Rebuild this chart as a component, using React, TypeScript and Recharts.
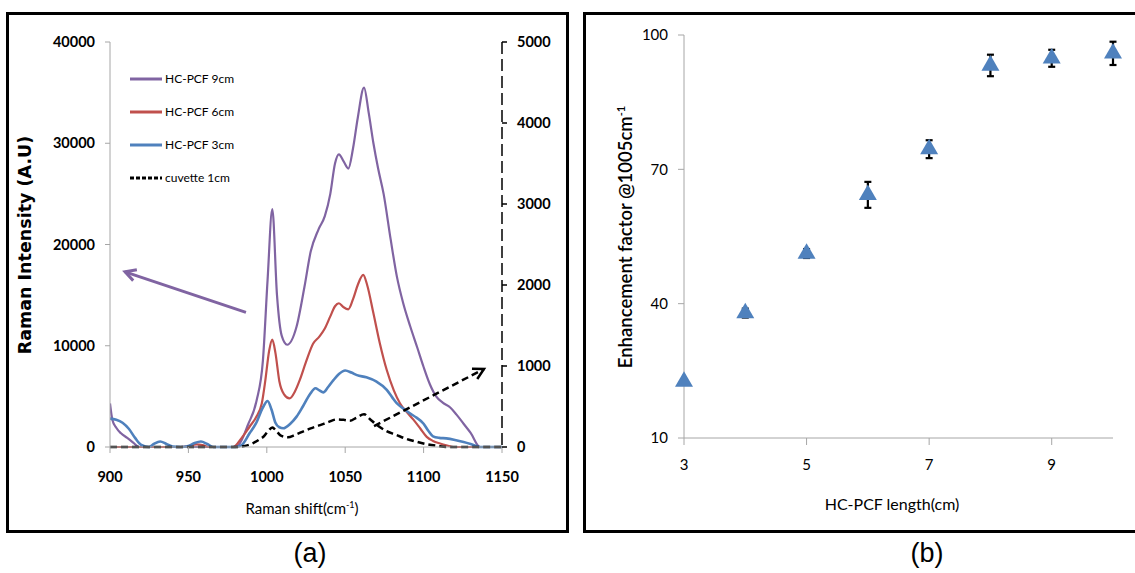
import React from "react";
import {
  ErrorBar,
  Legend,
  Line,
  LineChart,
  ReferenceLine,
  Scatter,
  ScatterChart,
  Symbols,
  XAxis,
  YAxis,
} from "recharts";

// ---- panel (a): Raman spectra, [shift cm-1, intensity] ----
const hcpcf9: [number, number][] = [
  [900, 4300], [901.5, 2700], [904, 1900], [907, 1350], [911, 900], [915, 400], [918.5, 0],
  [930, 0], [950, 0], [970, 0], [980, 0], [983, 400], [988, 2200], [993.5, 4600],
  [997.5, 8500], [1000.5, 16500], [1003.5, 23500], [1006.5, 15000], [1009.5, 11000],
  [1013, 10100], [1019, 11900], [1024, 15800], [1028, 19300], [1033, 21500], [1037, 22800],
  [1040.5, 25000], [1043.5, 28000], [1046, 28900], [1049, 28200], [1052, 27500],
  [1055, 29500], [1058, 32500], [1062, 35500], [1065, 33000], [1068, 30000], [1071, 27500],
  [1074.5, 25000], [1079, 20500], [1083, 16800], [1087, 14200], [1091.5, 11900],
  [1096, 9800], [1100, 7900], [1104, 6200], [1108, 5000], [1112, 4400], [1117, 3900],
  [1121, 3200], [1125.5, 2300], [1130, 1400], [1136, 0], [1150, 0],
];

const hcpcf6: [number, number][] = [
  [900, 0], [915, 0], [930, 0], [945, 0], [950, 100], [955, 250], [959, 200], [963, 0],
  [975, 0], [978.5, 0], [984, 900], [989, 2000], [993, 2900], [996.8, 4300], [999, 6500],
  [1001.5, 9500], [1003.5, 10600], [1005.5, 9300], [1008, 6500], [1011, 5200],
  [1014.5, 4800], [1018, 5500], [1021, 6600], [1025, 8400], [1029.5, 10200],
  [1033.5, 10900], [1037, 11700], [1040.5, 12900], [1043.5, 13900], [1046, 14200],
  [1049, 13800], [1052, 13600], [1055, 14600], [1058, 16000], [1061.5, 17000],
  [1064, 16000], [1068, 13200], [1072, 10300], [1076.5, 7600], [1081, 5600], [1085, 4300],
  [1089, 3500], [1093.5, 2700], [1098, 1800], [1102, 1000], [1106, 600], [1110.5, 350],
  [1115, 150], [1119, 0], [1150, 0],
];

const hcpcf3: [number, number][] = [
  [900, 2800], [904, 2700], [908, 2400], [912, 1800], [916, 900], [920, 200], [925, 0],
  [928, 300], [932, 550], [936, 300], [940, 50], [945, 0], [950, 100], [954, 400],
  [958, 550], [962, 300], [966, 0], [980, 0], [984, 200], [989, 1350], [993, 2300],
  [997.5, 3900], [1000.5, 4550], [1003, 3700], [1005.5, 2400], [1008, 1950],
  [1010.5, 1850], [1015, 2300], [1019, 3000], [1023, 4000], [1027.5, 5200], [1031, 5800],
  [1033.5, 5600], [1036, 5400], [1039, 5900], [1042.5, 6600], [1046, 7200], [1050, 7550],
  [1054, 7350], [1057.5, 7100], [1063.5, 6880], [1070, 6450], [1076.5, 5650], [1080, 4900],
  [1083, 4300], [1087, 3800], [1091.5, 3300], [1095.5, 2900], [1100, 2300], [1103, 1600],
  [1106, 1050], [1110, 900], [1114.5, 850], [1120, 700], [1125.5, 500], [1130, 300],
  [1136, 0], [1150, 0],
];

// right axis (0-5000)
const cuvette1: [number, number][] = [
  [900, 0], [980, 0], [985, 10], [991, 45], [995, 90], [998, 130], [1001, 200],
  [1003.5, 240], [1006, 200], [1009, 140], [1013.5, 120], [1018, 150], [1023, 190],
  [1028, 230], [1034, 270], [1039, 305], [1044.5, 340], [1049, 335], [1053, 325],
  [1057, 360], [1062, 405], [1066, 340], [1070, 275], [1076, 200], [1082.5, 150],
  [1089, 100], [1095.5, 65], [1102, 35], [1108.5, 15], [1115, 0], [1150, 0],
];

const seriesNames = ["HC-PCF 9cm", "HC-PCF 6cm", "HC-PCF 3cm", "cuvette 1cm"];
const shiftTicks = [900, 950, 1000, 1050, 1100, 1150];
const leftTicks = [0, 10000, 20000, 30000, 40000];
const rightTicks = [0, 1000, 2000, 3000, 4000, 5000];

// annotation arrows (tail -> head), left-axis units
const purpleArrow = [{ x: 986.7, y: 13300 }, { x: 909.6, y: 17300 }];
const blackArrow = [{ x: 1068.4, y: 2070 }, { x: 1138.5, y: 7700 }];

// ---- panel (b): enhancement factor ----
const lengths = [3, 4, 5, 6, 7, 8, 9, 10];
const enhancement = [22.6, 37.9, 51.2, 64.3, 74.5, 93.2, 94.8, 95.9];
const enhancementErr = [null, 1, 1, 2.9, 2, 2.4, 1.9, 2.6];
const lengthTicks = [3, 5, 7, 9];
const efTicks = [10, 40, 70, 100];

const PURPLE = "#8064A2";
const RED = "#C0504D";
const BLUE = "#4F81BD";
const FONT = "Lato, 'Open Sans', sans-serif";

const toPts = (arr: [number, number][]) => arr.map(([x, y]) => ({ x, y }));

const efData = lengths.map((len, i) => ({
  len,
  ef: enhancement[i],
  err: enhancementErr[i],
}));

const arrowShape = (color: string, width: number, dash?: string) => (props: any) => {
  const { x1, y1, x2, y2 } = props;
  const ang = Math.atan2(y2 - y1, x2 - x1);
  const L = 12;
  const a1 = ang + Math.PI - 0.5;
  const a2 = ang + Math.PI + 0.5;
  return (
    <g>
      <line x1={x1} y1={y1} x2={x2} y2={y2} stroke={color} strokeWidth={width} strokeDasharray={dash} />
      <path
        d={`M${x2 + L * Math.cos(a1)},${y2 + L * Math.sin(a1)} L${x2},${y2} L${x2 + L * Math.cos(a2)},${y2 + L * Math.sin(a2)}`}
        fill="none"
        stroke={color}
        strokeWidth={width}
      />
    </g>
  );
};

const triangle = (p: any) => (
  <Symbols cx={p.cx} cy={p.cy} type="triangle" size={140} fill={BLUE} />
);

const renderLegend = (props: any) => {
  const payload = [...(props.payload || [])].sort(
    (a: any, b: any) => seriesNames.indexOf(a.value) - seriesNames.indexOf(b.value)
  );
  return (
    <div style={{ fontFamily: FONT, fontSize: 12, color: "#000" }}>
      {payload.map((e: any) => (
        <div key={e.value} style={{ display: "flex", alignItems: "center", height: 33 }}>
          <svg width={35} height={6}>
            <line
              x1={0}
              y1={3}
              x2={32}
              y2={3}
              stroke={e.color}
              strokeWidth={3}
              strokeDasharray={e.payload?.strokeDasharray ? "4 2" : undefined}
            />
          </svg>
          <span>{e.value}</span>
        </div>
      ))}
    </div>
  );
};

function RamanChart() {
  return (
    <LineChart width={570} height={533} margin={{ top: 42, right: 8, bottom: 36, left: 0 }}>
      <XAxis
        type="number"
        dataKey="x"
        domain={[900, 1150]}
        ticks={shiftTicks}
        allowDataOverflow
        height={50}
        axisLine={{ stroke: "#a6a6a6" }}
        tickLine={{ stroke: "#a6a6a6" }}
        tickSize={6}
        tickMargin={19}
        tick={{ fill: "#000", fontSize: 14.5, fontWeight: 700, fontFamily: FONT }}
        label={{
          content: () => (
            <text x={302} y={514} textAnchor="middle" fontFamily={FONT} fontSize={15} fill="#000">
              Raman shift(cm
              <tspan dy={-6} fontSize={9}>-1</tspan>
              <tspan dy={6}>)</tspan>
            </text>
          ),
        }}
      />
      <YAxis
        yAxisId="left"
        orientation="left"
        domain={[0, 40000]}
        ticks={leftTicks}
        width={110}
        axisLine={{ stroke: "#a6a6a6" }}
        tickLine={{ stroke: "#a6a6a6" }}
        tickSize={5}
        tickMargin={10}
        tick={{ fill: "#000", fontSize: 14.5, fontWeight: 700, fontFamily: FONT }}
        label={{
          content: () => (
            <text
              x={31}
              y={245}
              textAnchor="middle"
              transform="rotate(-90 31 245)"
              fontFamily="'DejaVu Sans', Verdana, sans-serif"
              fontWeight={700}
              fontSize={17.5}
              fill="#000"
            >
              Raman Intensity (A.U)
            </text>
          ),
        }}
      />
      <YAxis
        yAxisId="right"
        orientation="right"
        domain={[0, 5000]}
        ticks={rightTicks}
        width={60}
        axisLine={{ stroke: "#000", strokeWidth: 1.5, strokeDasharray: "12 5" }}
        tickLine={{ stroke: "#000", strokeWidth: 1.5 }}
        tickSize={5}
        tickMargin={10}
        tick={{ fill: "#000", fontSize: 14.5, fontWeight: 700, fontFamily: FONT }}
      />
      <Legend
        layout="vertical"
        align="center"
        verticalAlign="middle"
        content={renderLegend}
        wrapperStyle={{ left: 130, top: 62, width: 120 }}
      />
      <Line yAxisId="left" name="HC-PCF 9cm" data={toPts(hcpcf9)} dataKey="y" type="monotone"
        stroke={PURPLE} strokeWidth={2.2} dot={false} activeDot={false} isAnimationActive={false} />
      <Line yAxisId="left" name="HC-PCF 6cm" data={toPts(hcpcf6)} dataKey="y" type="monotone"
        stroke={RED} strokeWidth={2.2} dot={false} activeDot={false} isAnimationActive={false} />
      <Line yAxisId="left" name="HC-PCF 3cm" data={toPts(hcpcf3)} dataKey="y" type="monotone"
        stroke={BLUE} strokeWidth={2.6} dot={false} activeDot={false} isAnimationActive={false} />
      <Line yAxisId="right" name="cuvette 1cm" data={toPts(cuvette1)} dataKey="y" type="monotone"
        stroke="#000" strokeWidth={2.5} strokeDasharray="7 4" dot={false} activeDot={false}
        isAnimationActive={false} />
      <ReferenceLine yAxisId="left" segment={purpleArrow} shape={arrowShape(PURPLE, 3)} />
      <ReferenceLine yAxisId="left" segment={blackArrow} shape={arrowShape("#000", 2.5, "7 4")} />
    </LineChart>
  );
}

function EnhancementChart() {
  return (
    <ScatterChart width={552} height={533} margin={{ top: 35, right: 22, bottom: 40, left: 0 }}>
      <XAxis
        type="number"
        dataKey="len"
        domain={[3, 10]}
        ticks={lengthTicks}
        height={55}
        axisLine={{ stroke: "#a6a6a6" }}
        tickLine={{ stroke: "#a6a6a6" }}
        tickSize={7}
        tickMargin={14}
        tick={{ fill: "#000", fontSize: 15, fontFamily: FONT }}
        label={{
          content: () => (
            <text x={309} y={510} textAnchor="middle" fontFamily={FONT} fontSize={16} fill="#000">
              HC-PCF length(cm)
            </text>
          ),
        }}
      />
      <YAxis
        type="number"
        dataKey="ef"
        domain={[10, 100]}
        ticks={efTicks}
        width={101}
        axisLine={{ stroke: "#a6a6a6" }}
        tickLine={{ stroke: "#a6a6a6" }}
        tickSize={6}
        tickMargin={10}
        tick={{ fill: "#000", fontSize: 15, fontFamily: FONT }}
        label={{
          content: () => (
            <text
              x={49}
              y={237}
              textAnchor="middle"
              transform="rotate(-90 49 237)"
              fontFamily={FONT}
              fontSize={18.5}
              fontWeight={600}
              fill="#000"
            >
              Enhancement factor @1005cm
              <tspan dy={-7} fontSize={11}>-1</tspan>
            </text>
          ),
        }}
      />
      <Scatter data={efData} shape={triangle} fill={BLUE} isAnimationActive={false}>
        <ErrorBar dataKey="err" direction="y" width={3.5} stroke="#000" strokeWidth={2.2} />
      </Scatter>
    </ScatterChart>
  );
}

export default function App() {
  return (
    <div
      style={{
        position: "absolute",
        left: 0,
        top: 0,
        width: 1135,
        height: 573,
        background: "#fff",
        overflow: "hidden",
      }}
    >
      <div style={{ position: "absolute", left: 6, top: 12, width: 563, height: 521, border: "3px solid #000", boxSizing: "border-box" }} />
      <div style={{ position: "absolute", left: 583, top: 12, width: 570, height: 521, border: "3px solid #000", boxSizing: "border-box" }} />
      <div style={{ position: "absolute", left: 0, top: 0 }}>
        <RamanChart />
      </div>
      <div style={{ position: "absolute", left: 583, top: 0 }}>
        <EnhancementChart />
      </div>
      <div style={{ position: "absolute", left: 260, top: 538, width: 100, textAlign: "center", fontFamily: "'Liberation Sans', Arial, sans-serif", fontSize: 27, color: "#000" }}>(a)</div>
      <div style={{ position: "absolute", left: 877, top: 538, width: 100, textAlign: "center", fontFamily: "'Liberation Sans', Arial, sans-serif", fontSize: 27, color: "#000" }}>(b)</div>
    </div>
  );
}
